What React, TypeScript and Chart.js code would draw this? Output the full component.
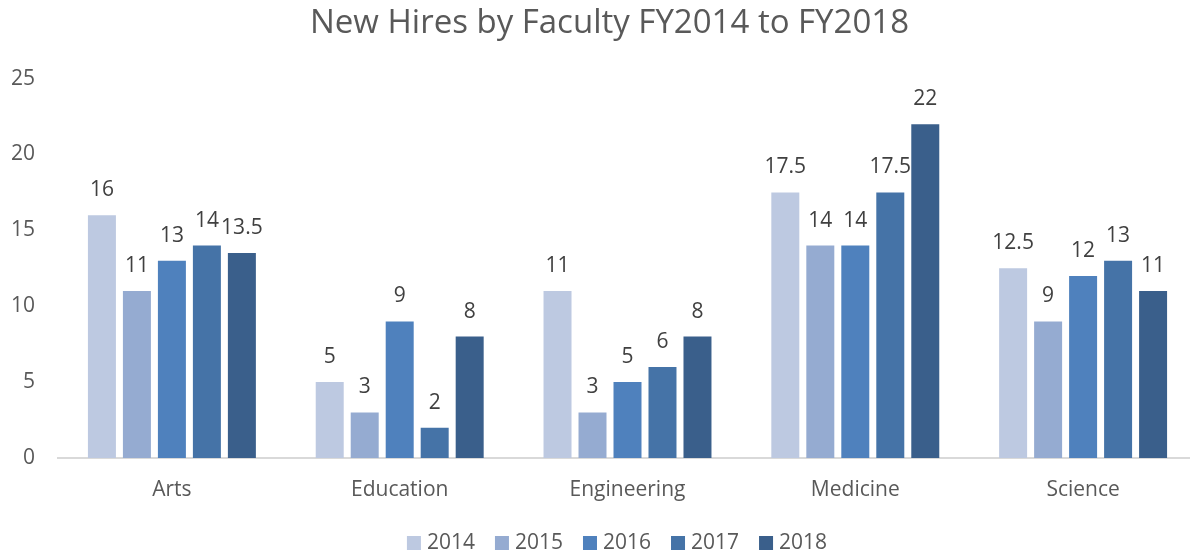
import React, { useEffect, useRef } from "react";
import { Chart, registerables } from "chart.js";

Chart.register(...registerables);

const categories = ["Arts", "Education", "Engineering", "Medicine", "Science"];
const years = ["2014", "2015", "2016", "2017", "2018"];
const v2014 = [16, 5, 11, 17.5, 12.5];
const v2015 = [11, 3, 3, 14, 9];
const v2016 = [13, 9, 5, 14, 12];
const v2017 = [14, 2, 6, 17.5, 13];
const v2018 = [13.5, 8, 8, 22, 11];
const colors = ["#BDC9E1", "#95ABD1", "#4F81BD", "#4573A7", "#3A5F8B"];
const TITLE = "New Hires by Faculty FY2014 to FY2018";
const FONT = "'Open Sans', sans-serif";

const valueLabels = {
  id: "valueLabels",
  afterDatasetsDraw(chart: any) {
    const ctx = chart.ctx;
    ctx.save();
    ctx.font = `21px ${FONT}`;
    ctx.fillStyle = "#404040";
    ctx.textAlign = "center";
    ctx.textBaseline = "middle";
    chart.data.datasets.forEach((ds: any, i: number) => {
      const meta = chart.getDatasetMeta(i);
      meta.data.forEach((bar: any, j: number) => {
        ctx.fillText(String(ds.data[j]), bar.x, bar.y - 25);
      });
    });
    ctx.restore();
  },
};

const titleAndLegend = {
  id: "titleAndLegend",
  afterDraw(chart: any) {
    const ctx = chart.ctx;
    ctx.save();
    ctx.font = `33px ${FONT}`;
    ctx.fillStyle = "#595959";
    ctx.textAlign = "center";
    ctx.textBaseline = "middle";
    ctx.fillText(TITLE, 609.5, 24);

    ctx.font = `21px ${FONT}`;
    const box = 14;
    const gapBoxText = 6;
    const gapItem = 20;
    const widths = chart.data.datasets.map((ds: any) => ctx.measureText(ds.label).width);
    const total =
      widths.reduce((a: number, b: number) => a + b, 0) +
      widths.length * (box + gapBoxText) +
      (widths.length - 1) * gapItem;
    let x = 617 - total / 2;
    const cy = 543;
    chart.data.datasets.forEach((ds: any, i: number) => {
      ctx.fillStyle = ds.backgroundColor;
      ctx.fillRect(x, cy - box / 2, box, box);
      x += box + gapBoxText;
      ctx.fillStyle = "#595959";
      ctx.textAlign = "left";
      ctx.textBaseline = "middle";
      ctx.fillText(ds.label, x, cy);
      x += widths[i] + gapItem;
    });
    ctx.restore();
  },
};

export default function App() {
  const ref = useRef<HTMLCanvasElement>(null);
  useEffect(() => {
    const series = [v2014, v2015, v2016, v2017, v2018];
    const chart = new Chart(ref.current!, {
      type: "bar",
      data: {
        labels: categories,
        datasets: years.map((y, i) => ({
          label: y,
          data: series[i],
          backgroundColor: colors[i],
          borderWidth: 0,
          categoryPercentage: 0.768,
          barPercentage: 0.8,
        })),
      },
      options: {
        responsive: false,
        animation: false,
        maintainAspectRatio: false,
        layout: { padding: { left: 0, right: 22, top: 0, bottom: 48 } },
        plugins: {
          title: {
            display: true,
            text: TITLE,
            color: "rgba(0,0,0,0)",
            font: { family: FONT, size: 33, weight: "normal" },
            padding: { top: 4, bottom: 35 },
          },
          legend: { display: false },
          tooltip: { enabled: false },
        },
        scales: {
          x: {
            grid: { display: false },
            border: { display: true, color: "#D9D9D9", width: 2 },
            ticks: { color: "#595959", font: { family: FONT, size: 21 }, padding: 11 },
            afterFit(scale: any) {
              scale.height = 50;
            },
          },
          y: {
            min: 0,
            max: 25,
            grid: { display: false },
            border: { display: false },
            ticks: { stepSize: 5, color: "#595959", font: { family: FONT, size: 21 }, padding: 15 },
            afterFit(scale: any) {
              scale.width = 58;
            },
          },
        },
      },
      plugins: [valueLabels, titleAndLegend],
    });
    return () => chart.destroy();
  }, []);
  return (
    <div style={{ position: "fixed", left: 0, top: 0, width: 1190, height: 556, background: "#fff", overflow: "hidden" }}>
      <canvas ref={ref} width={1219} height={556} />
    </div>
  );
}
